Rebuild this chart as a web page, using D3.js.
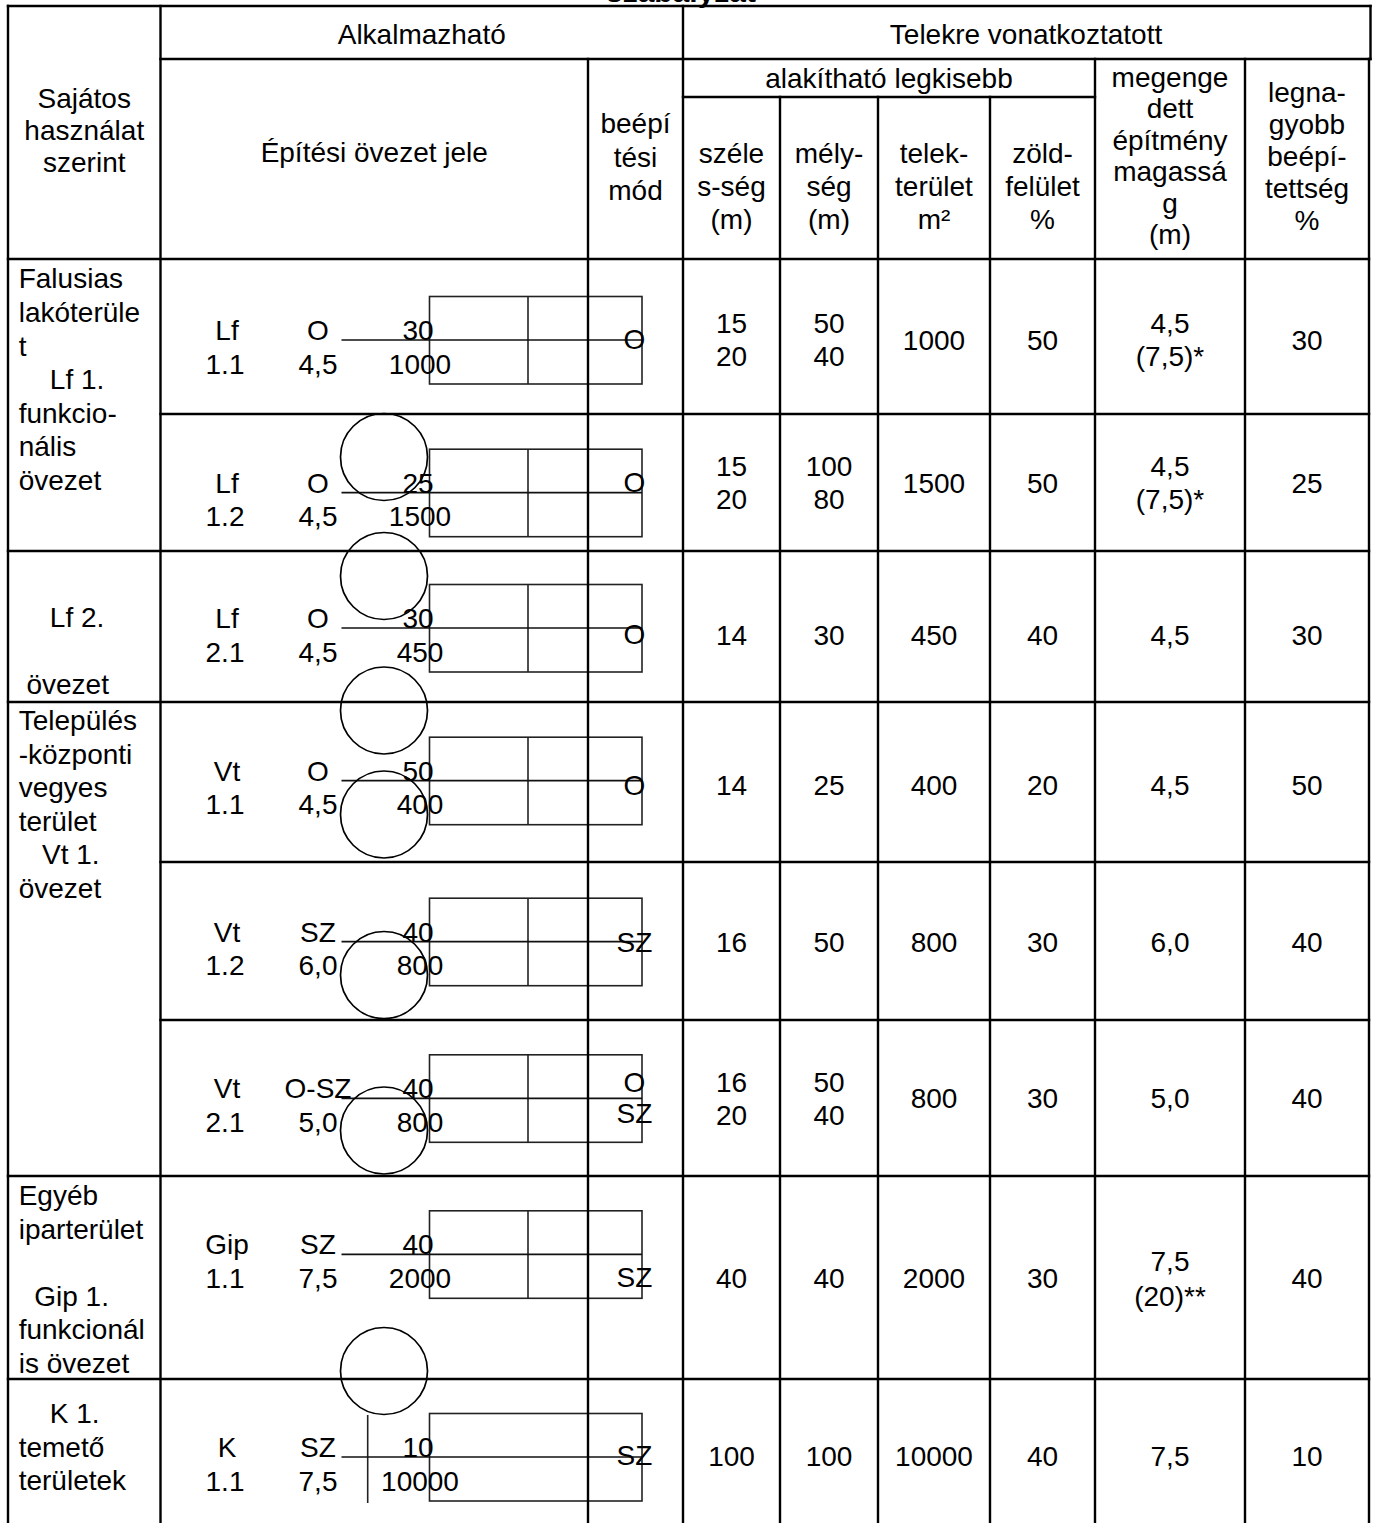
<!DOCTYPE html>
<html><head><meta charset="utf-8">
<script src="https://cdn.jsdelivr.net/npm/d3@7"></script>
<style>
html,body{margin:0;padding:0;background:#fff;}
svg{display:block;}
text{font-family:"Liberation Sans",Arial,Helvetica,sans-serif;fill:#000;}
</style>
</head><body>
<svg id="c" width="1376" height="1523"></svg>
<script>
// ---------------- DATA ----------------
const titleText = "szabályzat";
const topHeaders = ["Alkalmazható", "Telekre vonatkoztatott"];
const useHeader = ["Sajátos", "használat", "szerint"];
const zoneHeader = ["Építési övezet jele"];
const modeHeader = ["beépí", "tési", "mód"];
const minHeader = ["alakítható legkisebb"];
const widthHeader = ["széle", "s-ség", "(m)"];
const depthHeader = ["mély-", "ség", "(m)"];
const areaHeader = ["telek-", "terület", "m²"];
const greenHeader = ["zöld-", "felület", "%"];
const heightHeader = ["megenge", "dett", "építmény", "magassá", "g", "(m)"];
const coverHeader = ["legna-", "gyobb", "beépí-", "tettség", "%"];

const useLabels = [
  ["Falusias", "lakóterüle", "t", "\u00a0\u00a0\u00a0\u00a0Lf 1.", "funkcio-", "nális", "övezet"],
  ["\u00a0\u00a0\u00a0\u00a0Lf 2.", "", "\u00a0övezet"],
  ["Település", "-központi", "vegyes", "terület", "\u00a0\u00a0\u00a0Vt 1.", "övezet"],
  ["Egyéb", "iparterület", "", "\u00a0\u00a0Gip 1.", "funkcionál", "is övezet"],
  ["\u00a0\u00a0\u00a0\u00a0K 1.", "temető", "területek"]
];

const zoneCodes   = ["Lf", "Lf", "Lf", "Vt", "Vt", "Vt", "Gip", "K"];
const zoneNumbers = ["1.1", "1.2", "2.1", "1.1", "1.2", "2.1", "1.1", "1.1"];
const zoneModes   = ["O", "O", "O", "O", "SZ", "O-SZ", "SZ", "SZ"];
const zoneHeights = ["4,5", "4,5", "4,5", "4,5", "6,0", "5,0", "7,5", "7,5"];
const zoneCover   = ["30", "25", "30", "50", "40", "40", "40", "10"];
const zoneArea    = ["1000", "1500", "450", "400", "800", "800", "2000", "10000"];
const modeMarks   = [["O"], ["O"], ["O"], ["O"], ["SZ"], ["O", "SZ"], ["SZ"], ["SZ"]];

const plotWidth   = [["15", "20"], ["15", "20"], ["14"], ["14"], ["16"], ["16", "20"], ["40"], ["100"]];
const plotDepth   = [["50", "40"], ["100", "80"], ["30"], ["25"], ["50"], ["50", "40"], ["40"], ["100"]];
const plotArea    = [["1000"], ["1500"], ["450"], ["400"], ["800"], ["800"], ["2000"], ["10000"]];
const greenPct    = [["50"], ["50"], ["40"], ["20"], ["30"], ["30"], ["30"], ["40"]];
const buildHeight = [["4,5", "(7,5)*"], ["4,5", "(7,5)*"], ["4,5"], ["4,5"], ["6,0"], ["5,0"], ["7,5", "(20)**"], ["7,5"]];
const coverPct    = [["30"], ["25"], ["30"], ["50"], ["40"], ["40"], ["40"], ["10"]];

// ---------------- LAYOUT ----------------
const FS = 28;
const svg = d3.select("#c");
const colKeys = ["use", "zone", "mode", "width", "depth", "area", "green", "height", "cover"];
const colEdges = [8, 160.5, 588, 683, 780, 878, 990, 1095, 1245, 1369];
const xLeft = d3.scaleOrdinal(colKeys, colEdges.slice(0, -1));
const xRight = d3.scaleOrdinal(colKeys, colEdges.slice(1));
const xMid = k => (xLeft(k) + xRight(k)) / 2;

const rowIds = d3.range(8);
const rowEdges = [259, 414, 551, 702, 862, 1020, 1176, 1379, 1533];
const yTop = d3.scaleOrdinal(rowIds, rowEdges.slice(0, -1));
const yText = d3.scaleOrdinal(rowIds, [339.5, 482.7, 635, 785, 941.7, 1098.3, 1278, 1456]);
const yLine = d3.scaleOrdinal(rowIds, [340, 492.7, 628, 780.7, 941.7, 1098.3, 1254.3, 1457]);
const markOffsets = [[8.5], [-1], [16], [14.3], [10], [-6.5, 25], [32.7], [8]];
const boxSplit = [1, 1, 1, 1, 1, 1, 1, 0];
const groupRows = [[0, 1], [2], [3, 4, 5], [6], [7]];
const groupFirstBaseline = [288.3, 626.7, 730, 1205, 1423];
const circleY = [457, 576, 710.5, 814.5, 975, 1130.5, 1371];
const LH = 33.6;

const g = svg.append("g");

// title (clipped at top)
g.append("text").attr("x", 681).attr("y", 2).attr("text-anchor", "middle")
  .attr("font-size", 30).attr("font-weight", "bold").text(titleText);

// ---- helper to write multiline text
function multiline(sel, lines, x, y0, step, anchor) {
  sel.append("g").selectAll("text").data(lines).join("text")
    .attr("x", x).attr("y", (d, i) => y0 + i * step)
    .attr("text-anchor", anchor || "middle")
    .attr("font-size", FS)
    .style("white-space", "pre")
    .text(d => d);
}

// ---- header text
multiline(g, useHeader, xMid("use"), 108, 32);
multiline(g, [topHeaders[0]], (xLeft("zone") + xRight("mode")) / 2, 44, 0);
multiline(g, [topHeaders[1]], (xLeft("width") + xRight("cover")) / 2, 44, 0);
multiline(g, zoneHeader, xMid("zone"), 162, 0);
multiline(g, modeHeader, xMid("mode"), 133, 33.5);
multiline(g, minHeader, (xLeft("width") + xRight("green")) / 2, 88, 0);
multiline(g, widthHeader, xMid("width"), 163, 33);
multiline(g, depthHeader, xMid("depth"), 163, 33);
multiline(g, areaHeader, xMid("area"), 163, 33);
multiline(g, greenHeader, xMid("green"), 163, 33);
multiline(g, heightHeader, xMid("height"), 87, 31.4);
multiline(g, coverHeader, xMid("cover"), 102, 32);

// ---- left column groups
useLabels.forEach((lines, gi) => {
  multiline(g, lines, 18.7, groupFirstBaseline[gi], LH, "start");
});

// ---- value columns
const valueCols = [["width", plotWidth], ["depth", plotDepth], ["area", plotArea],
                   ["green", greenPct], ["height", buildHeight], ["cover", coverPct]];
valueCols.forEach(([key, arr]) => {
  const cells = g.append("g").selectAll("g").data(arr).join("g");
  cells.selectAll("text").data((d, i) => d.map((v, j) => ({v, j, n: d.length, r: i}))).join("text")
    .attr("x", xMid(key))
    .attr("y", d => yText(d.r) + 10 + (d.n === 1 ? 0 : (d.j - 0.5) * (d.r === 6 && key === "height" ? 35 : 33.4)))
    .attr("text-anchor", "middle").attr("font-size", FS)
    .text(d => d.v);
});

// ---- zone sign cells
const zoneG = g.append("g");
const zx = {code: 227, mode: 318, frac: 420, lineL: 341.5, lineR: 642, boxL: 429.5, boxR: 642, split: 528, mark: 634.5, kLine: 367.7};
rowIds.forEach(i => {
  const ly = yLine(i);
  // box
  zoneG.append("rect").attr("x", zx.boxL).attr("y", ly - 43.5).attr("width", zx.boxR - zx.boxL).attr("height", 87.5)
    .attr("fill", "none").attr("stroke", "#222").attr("stroke-width", 1.6);
  if (boxSplit[i]) {
    zoneG.append("line").attr("x1", zx.split).attr("x2", zx.split).attr("y1", ly - 43.5).attr("y2", ly + 44)
      .attr("stroke", "#222").attr("stroke-width", 1.6);
  } else {
    zoneG.append("line").attr("x1", zx.kLine).attr("x2", zx.kLine).attr("y1", ly - 42).attr("y2", ly + 46)
      .attr("stroke", "#222").attr("stroke-width", 1.6);
  }
  // fraction line
  zoneG.append("line").attr("x1", zx.lineL).attr("x2", zx.lineR).attr("y1", ly).attr("y2", ly)
    .attr("stroke", "#111").attr("stroke-width", 1.7);
  const t = (x, y, s) => zoneG.append("text").attr("x", x).attr("y", y).attr("text-anchor", "middle").attr("font-size", FS).text(s);
  t(zx.code, ly, zoneCodes[i]);
  t(zx.code - 2, ly + 33.5, zoneNumbers[i]);
  t(zx.mode, ly, zoneModes[i]);
  t(zx.mode, ly + 33.5, zoneHeights[i]);
  t(zx.frac - 2, ly, zoneCover[i]);
  t(zx.frac, ly + 33.5, zoneArea[i]);
  modeMarks[i].forEach((m, j) => t(zx.mark, ly + markOffsets[i][j], m));
});

// circles
zoneG.selectAll("circle").data(circleY).join("circle")
  .attr("cx", 384).attr("cy", d => d).attr("r", 43.5)
  .attr("fill", "none").attr("stroke", "#000").attr("stroke-width", 1.7);

// ---------------- GRID LINES ----------------
const lines = [];
const H = (y, x1, x2) => lines.push({x1, x2, y1: y, y2: y});
const V = (x, y1, y2) => lines.push({x1: x, x2: x, y1, y2});
const headTop = 6, headMid = 59, subMid = 97, headBot = rowEdges[0], bottom = 1530;
H(headTop, colEdges[0], colEdges[9] + 1.5);
H(headMid, xLeft("zone"), colEdges[9] + 1.5);
H(subMid, xLeft("width"), xRight("green"));
H(headBot, colEdges[0], colEdges[9]);
rowIds.slice(1).forEach(i => {
  const sameGroup = groupRows.some(gr => gr.includes(i) && gr.includes(i - 1));
  H(yTop(i), sameGroup ? xLeft("zone") : colEdges[0], colEdges[9]);
});
V(colEdges[0], headTop, bottom);
V(xLeft("zone"), headTop, bottom);
V(xLeft("mode"), headMid, bottom);
V(xLeft("width"), headTop, bottom);
V(xLeft("depth"), subMid, bottom);
V(xLeft("area"), subMid, bottom);
V(xLeft("green"), subMid, bottom);
V(xLeft("height"), headMid, bottom);
V(xLeft("cover"), headMid, bottom);
V(colEdges[9] + 1.5, headTop, headMid);
V(colEdges[9], headMid, bottom);

g.append("g").selectAll("line").data(lines).join("line")
  .attr("x1", d => d.x1).attr("x2", d => d.x2).attr("y1", d => d.y1).attr("y2", d => d.y2)
  .attr("stroke", "#000").attr("stroke-width", 2.4).attr("stroke-linecap", "square");
</script>
</body></html>
